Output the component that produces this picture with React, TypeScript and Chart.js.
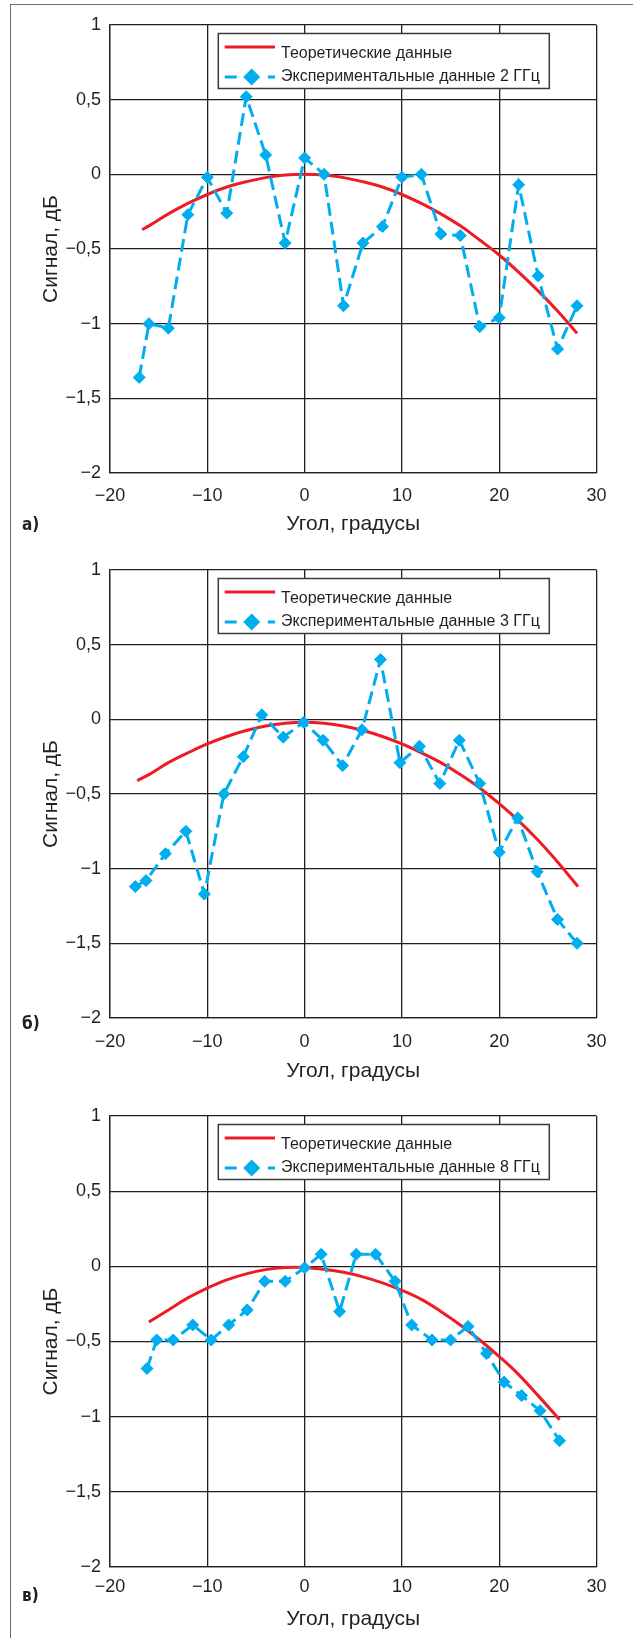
import React, { useEffect, useRef } from 'react';
import { Chart, registerables } from 'chart.js';

Chart.register(...registerables);

// ---------- text ----------
const xTickLabels = ['−20', '−10', '0', '10', '20', '30'];
const yTickLabels = ['−2', '−1,5', '−1', '−0,5', '0', '0,5', '1'];
const xAxisTitle = 'Угол, градусы';
const yAxisTitle = 'Сигнал, дБ';
const theoryLabel = 'Теоретические данные';

// ---------- panel а) 2 ГГц ----------
const angles2 = [-17, -16, -14, -12, -10, -8, -6, -4, -2, 0, 2, 4, 6, 8, 10, 12, 14, 16, 18, 20, 22, 24, 26, 28];
const signal2 = [-1.36, -1.0, -1.03, -0.27, -0.02, -0.26, 0.52, 0.13, -0.46, 0.11, 0.0, -0.88, -0.46, -0.35, -0.02, 0.0, -0.4, -0.41, -1.02, -0.96, -0.07, -0.68, -1.17, -0.88];
const theoryAngles2 = [-16.7, -16, -14, -12, -10, -8, -6, -4, -2, 0, 2, 4, 6, 8, 10, 12, 14, 16, 18, 20, 22, 24, 26, 28];
const theory2 = [-0.37, -0.345, -0.265, -0.195, -0.135, -0.085, -0.05, -0.022, -0.005, 0, -0.005, -0.022, -0.05, -0.085, -0.135, -0.195, -0.265, -0.345, -0.44, -0.54, -0.655, -0.78, -0.915, -1.065];

// ---------- panel б) 3 ГГц ----------
const angles3 = [-17.4, -16.3, -14.3, -12.2, -10.3, -8.3, -6.3, -4.4, -2.2, -0.1, 1.9, 3.9, 5.9, 7.8, 9.8, 11.8, 13.9, 15.9, 18.0, 20.0, 21.9, 23.9, 26.0, 28.0];
const signal3 = [-1.12, -1.08, -0.9, -0.75, -1.17, -0.5, -0.25, 0.03, -0.12, -0.02, -0.14, -0.31, -0.07, 0.4, -0.29, -0.18, -0.43, -0.14, -0.43, -0.89, -0.66, -1.02, -1.34, -1.5];
const theoryAngles3 = [-17.2, -16, -14, -12, -10, -8, -6, -4, -2, 0, 2, 4, 6, 8, 10, 12, 14, 16, 18, 20, 22, 24, 26, 28.1];
const theory3 = [-0.41, -0.37, -0.29, -0.225, -0.165, -0.115, -0.075, -0.045, -0.027, -0.02, -0.027, -0.045, -0.075, -0.115, -0.165, -0.225, -0.29, -0.37, -0.46, -0.565, -0.68, -0.81, -0.955, -1.12];

// ---------- panel в) 8 ГГц ----------
const angles8 = [-16.2, -15.2, -13.5, -11.5, -9.6, -7.8, -5.9, -4.1, -2.0, 0, 1.7, 3.6, 5.3, 7.3, 9.3, 11.0, 13.1, 15.0, 16.8, 18.7, 20.5, 22.3, 24.2, 26.2];
const signal8 = [-0.68, -0.49, -0.49, -0.39, -0.49, -0.39, -0.29, -0.1, -0.1, -0.01, 0.08, -0.3, 0.08, 0.08, -0.1, -0.39, -0.49, -0.49, -0.4, -0.58, -0.77, -0.86, -0.96, -1.16];
const theoryAngles8 = [-16, -14, -12, -10, -8, -6, -4, -2, 0, 2, 4, 6, 8, 10, 12, 14, 16, 18, 20, 22, 24, 26.2];
const theory8 = [-0.37, -0.29, -0.21, -0.145, -0.09, -0.05, -0.022, -0.008, -0.008, -0.02, -0.04, -0.07, -0.11, -0.16, -0.22, -0.3, -0.39, -0.49, -0.6, -0.72, -0.86, -1.02];

// ---------- styles ----------
const RED = '#ED1C24';
const BLUE = '#00AEEF';
const INK = '#231F20';
const GRID = '#231F20';
const FONT = '"Liberation Sans", Arial, Helvetica, sans-serif';

const panels = [
  {
    tag: 'а)', expLabel: 'Экспериментальные данные 2 ГГц',
    xs: angles2, ys: signal2, txs: theoryAngles2, tys: theory2,
    top: 0, padTop: 25, xAxisH: 73, xTickPad: 12.2, xTitlePadBottom: 9, tagY: 524,
  },
  {
    tag: 'б)', expLabel: 'Экспериментальные данные 3 ГГц',
    xs: angles3, ys: signal3, txs: theoryAngles3, tys: theory3,
    top: 546, padTop: 24, xAxisH: 74, xTickPad: 12.9, xTitlePadBottom: 8, tagY: 1023,
  },
  {
    tag: 'в)', expLabel: 'Экспериментальные данные 8 ГГц',
    xs: angles8, ys: signal8, txs: theoryAngles8, tys: theory8,
    top: 1092, padTop: 24, xAxisH: 71, xTickPad: 9.2, xTitlePadBottom: 6, tagY: 1595,
  },
];

const PANEL_W = 633;
const PANEL_H = 546;

const boxLegend = {
  id: 'boxLegend',
  afterDraw(chart: any) {
    const { ctx, chartArea } = chart;
    const ds = chart.data.datasets;
    const bx = chartArea.left + 108.3;
    const by = chartArea.top + 8.5;
    const bw = 331;
    const bh = 55;
    ctx.save();
    ctx.setLineDash([]);
    ctx.fillStyle = '#ffffff';
    ctx.fillRect(bx, by, bw, bh);
    ctx.strokeStyle = '#3a3a3a';
    ctx.lineWidth = 1.5;
    ctx.strokeRect(bx, by, bw, bh);

    // row 1: theory
    ctx.strokeStyle = RED;
    ctx.lineWidth = 3;
    ctx.beginPath();
    ctx.moveTo(bx + 6.4, by + 13.4);
    ctx.lineTo(bx + 56.7, by + 13.4);
    ctx.stroke();

    ctx.font = '16px ' + FONT;
    ctx.fillStyle = INK;
    ctx.textAlign = 'left';
    ctx.textBaseline = 'alphabetic';
    ctx.fillText(ds[1].label, bx + 62.7, by + 24.4);

    // row 2: experiment
    const ry = by + 43.4;
    ctx.strokeStyle = BLUE;
    ctx.lineWidth = 3;
    ctx.beginPath();
    ctx.moveTo(bx + 6.4, ry);
    ctx.lineTo(bx + 18.4, ry);
    ctx.moveTo(bx + 49.5, ry);
    ctx.lineTo(bx + 56.7, ry);
    ctx.stroke();
    const cx = bx + 33.4;
    const r = 8.5;
    ctx.fillStyle = BLUE;
    ctx.beginPath();
    ctx.moveTo(cx - r, ry);
    ctx.lineTo(cx, ry - r);
    ctx.lineTo(cx + r, ry);
    ctx.lineTo(cx, ry + r);
    ctx.closePath();
    ctx.fill();

    ctx.fillStyle = INK;
    ctx.fillText(ds[0].label, bx + 62.7, by + 47.7);
    ctx.restore();
  },
};

function Panel({ cfg }: { cfg: any }) {
  const ref = useRef<HTMLCanvasElement | null>(null);
  useEffect(() => {
    if (!ref.current) return;
    const chart = new Chart(ref.current, {
      type: 'line',
      data: {
        datasets: [
          {
            label: cfg.expLabel,
            data: cfg.xs.map((x: number, i: number) => ({ x, y: cfg.ys[i] })),
            borderColor: BLUE,
            backgroundColor: BLUE,
            borderWidth: 3,
            borderDash: [13, 6],
            pointStyle: 'rectRot',
            pointRadius: 6,
            pointBorderWidth: 1,
            pointBackgroundColor: BLUE,
            pointBorderColor: BLUE,
            tension: 0,
            fill: false,
          },
          {
            label: theoryLabel,
            data: cfg.txs.map((x: number, i: number) => ({ x, y: cfg.tys[i] })),
            borderColor: RED,
            backgroundColor: RED,
            borderWidth: 3,
            pointRadius: 0,
            tension: 0.4,
            fill: false,
          },
        ],
      },
      options: {
        responsive: false,
        animation: false,
        devicePixelRatio: 1,
        events: [],
        layout: { padding: { top: cfg.padTop, right: 36.5, left: 0, bottom: 0 } },
        plugins: {
          legend: { display: false },
          tooltip: { enabled: false },
        },
        scales: {
          x: {
            type: 'linear',
            min: -20,
            max: 30,
            afterBuildTicks: (scale: any) => {
              scale.ticks = xTickLabels.map((_, i) => ({ value: -20 + i * 10 }));
            },
            afterFit: (scale: any) => {
              scale.height = cfg.xAxisH;
            },
            ticks: {
              padding: cfg.xTickPad,
              color: INK,
              font: { family: FONT, size: 18 },
              maxRotation: 0,
              autoSkip: false,
              callback: (_v: any, i: number) => xTickLabels[i],
            },
            grid: { color: GRID, lineWidth: 1.3, drawTicks: false },
            border: { display: true, color: GRID, width: 1.3 },
            title: {
              display: true,
              text: xAxisTitle,
              color: INK,
              font: { family: FONT, size: 21 },
              padding: { top: 0, bottom: cfg.xTitlePadBottom },
            },
          },
          y: {
            type: 'linear',
            min: -2,
            max: 1,
            afterBuildTicks: (scale: any) => {
              scale.ticks = yTickLabels.map((_, i) => ({ value: -2 + i * 0.5 }));
            },
            afterFit: (scale: any) => {
              scale.width = 110;
            },
            ticks: {
              padding: 9,
              color: INK,
              font: { family: FONT, size: 18 },
              autoSkip: false,
              callback: (_v: any, i: number) => yTickLabels[i],
            },
            grid: { color: GRID, lineWidth: 1.3, drawTicks: false },
            border: { display: true, color: GRID, width: 1.3 },
            title: {
              display: true,
              text: yAxisTitle,
              color: INK,
              font: { family: FONT, size: 21 },
              padding: { top: 38.5, bottom: 0 },
            },
          },
        },
      },
      plugins: [boxLegend],
    } as any);
    return () => chart.destroy();
  }, [cfg]);

  return (
    <div style={{ position: 'absolute', left: 0, top: cfg.top, width: PANEL_W, height: PANEL_H }}>
      <canvas ref={ref} width={PANEL_W} height={PANEL_H} style={{ display: 'block' }} />
    </div>
  );
}

export default function App() {
  return (
    <div style={{ position: 'absolute', left: 0, top: 0, width: 633, height: 1638, background: '#fff', overflow: 'hidden' }}>
      <div
        style={{
          position: 'absolute',
          left: 10,
          top: 4,
          width: 640,
          height: 1660,
          borderLeft: '1.5px solid #6d6e71',
          borderTop: '1.5px solid #6d6e71',
          boxSizing: 'border-box',
        }}
      />
      {panels.map((p) => (
        <Panel key={p.tag} cfg={p} />
      ))}
      {panels.map((p) => (
        <div
          key={'tag' + p.tag}
          style={{
            position: 'absolute',
            left: 22,
            top: p.tagY - 10,
            height: 20,
            lineHeight: '20px',
            fontFamily: '"Liberation Sans Narrow", "DejaVu Sans Condensed", "Liberation Sans", Arial, sans-serif',
            fontWeight: 700,
            fontSize: 17,
            color: INK,
          }}
        >
          {p.tag}
        </div>
      ))}
    </div>
  );
}
